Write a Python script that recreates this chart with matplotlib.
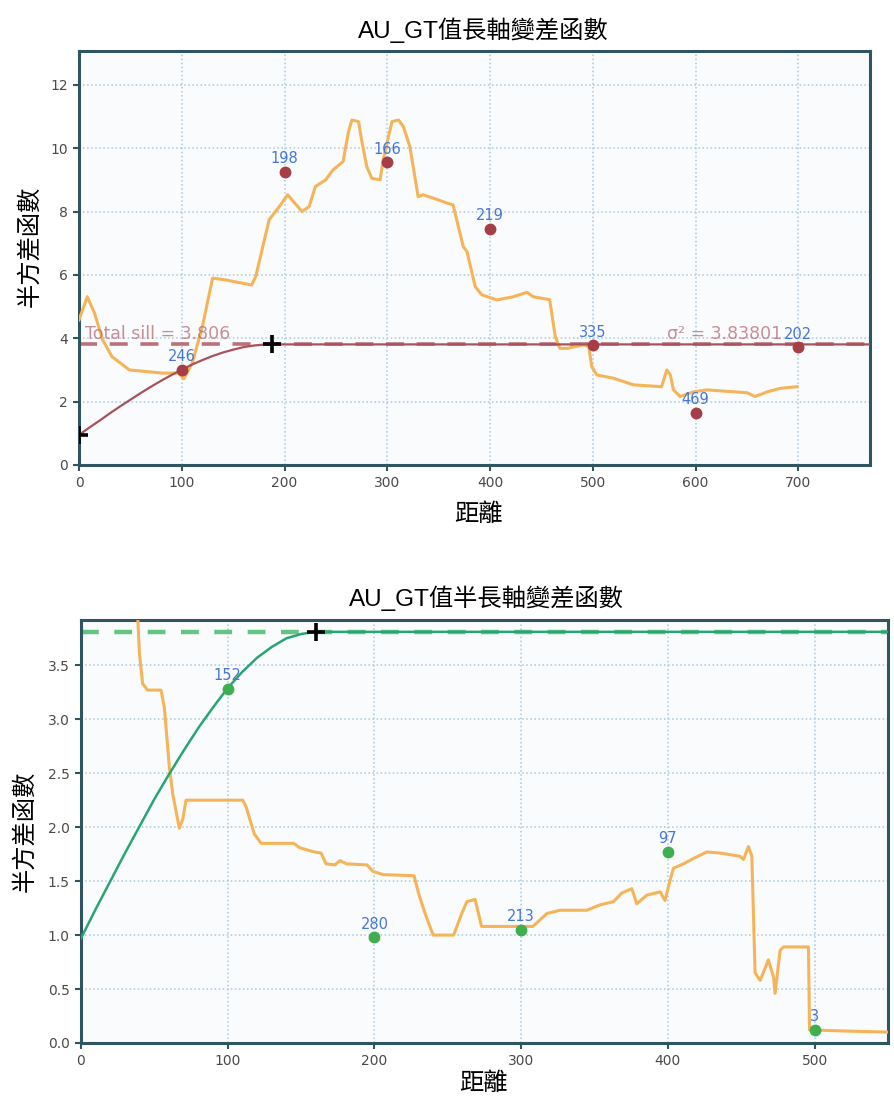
import matplotlib
matplotlib.use("Agg")
import matplotlib.pyplot as plt

'''Chart texts'''
title_top = "AU_GT值長軸變差函數"
title_bot = "AU_GT值半長軸變差函數"
ylabel = "半方差函數"
xlabel = "距離"

'''Major axis: empirical variogram (lag, value, pair count)'''
lag_top = [100, 200, 300, 400, 500, 600, 700]
gam_top = [3.0, 9.25, 9.55, 7.45, 3.78, 1.65, 3.72]
npair_top = [246, 198, 166, 219, 335, 469, 202]

'''Major axis: fitted model read off the curve'''
model_x_top = [0, 10, 20, 30, 40, 50, 60, 70, 80, 90, 100, 110, 120, 130, 140, 150, 160, 170, 180, 188, 770]
model_y_top = [0.95, 1.18, 1.40, 1.63, 1.85, 2.06, 2.27, 2.47, 2.66, 2.84, 3.01, 3.17, 3.31, 3.44, 3.55,
               3.64, 3.72, 3.77, 3.80, 3.806, 3.806]
sill_top = 3.806
range_top = 188
nugget_top = 0.95

'''Major axis: orange trace'''
tr_x_top = [0, 8, 15, 23, 32, 49, 81, 97, 102, 110, 120, 130, 143, 168, 172, 185, 195, 203, 217, 224,
            230, 240, 247, 257, 262, 265.5, 272, 275, 280, 285, 293, 296, 304.5, 311, 315.7, 322, 330,
            335, 345, 358, 364, 374, 377.5, 385.6, 392, 406.7, 422.6, 436, 442, 458, 463.5, 468, 475,
            491, 496, 499, 504, 520, 539.5, 567, 572, 575.5, 578.5, 585, 598, 611, 637, 650, 658, 670,
            682.6, 699]
tr_y_top = [4.58, 5.31, 4.80, 3.95, 3.42, 3.00, 2.90, 2.90, 2.72, 3.20, 4.36, 5.90, 5.84, 5.68, 5.95,
            7.74, 8.16, 8.53, 8.00, 8.16, 8.79, 9.00, 9.31, 9.58, 10.48, 10.89, 10.84, 10.26, 9.42,
            9.05, 9.00, 9.63, 10.84, 10.89, 10.68, 10.05, 8.47, 8.53, 8.42, 8.27, 8.21, 6.89, 6.74,
            5.63, 5.37, 5.21, 5.31, 5.45, 5.31, 5.22, 4.05, 3.68, 3.68, 3.79, 3.74, 3.10, 2.84, 2.74,
            2.53, 2.47, 3.00, 2.84, 2.37, 2.16, 2.31, 2.37, 2.31, 2.28, 2.16, 2.31, 2.42, 2.47]

'''Semi-major axis: empirical variogram'''
lag_bot = [100, 200, 300, 400, 500]
gam_bot = [3.28, 0.98, 1.05, 1.77, 0.12]
npair_bot = [152, 280, 213, 97, 3]

'''Semi-major axis: fitted model read off the curve'''
model_x_bot = [0, 10, 20, 30, 40, 50, 60, 70, 80, 90, 100, 110, 120, 130, 140, 150, 160, 550]
model_y_bot = [0.97, 1.24, 1.50, 1.76, 2.01, 2.26, 2.49, 2.71, 2.92, 3.11, 3.29, 3.44, 3.57, 3.67,
               3.75, 3.79, 3.81, 3.81]
sill_bot = 3.81
range_bot = 160

'''Semi-major axis: orange trace'''
tr_x_bot = [38.5, 39.8, 42, 45.4, 54.5, 56.8, 60.2, 62.5, 67, 69.3, 71.6, 77.3, 110.2, 112.5, 118,
            122.7, 145, 149, 159, 163.6, 167, 173, 176.5, 181, 195, 199, 206, 227, 230, 234.5, 240,
            254, 259.5, 263, 268.6, 273, 286, 308, 317.5, 326.5, 344.7, 353.8, 362.9, 368.6, 375.4,
            378.8, 385.6, 394.7, 398, 401.5, 403.8, 410.6, 417.4, 426.5, 435.6, 449.2, 451.5, 454.9,
            457.2, 459.4, 462.9, 468.5, 472, 473, 476.5, 478.8, 495.8, 496.5, 551]
tr_y_bot = [4.0, 3.61, 3.33, 3.27, 3.27, 3.11, 2.56, 2.31, 1.99, 2.07, 2.25, 2.25, 2.25, 2.19, 1.94,
            1.85, 1.85, 1.81, 1.77, 1.76, 1.66, 1.65, 1.69, 1.66, 1.65, 1.59, 1.56, 1.55, 1.39, 1.20,
            1.00, 1.00, 1.20, 1.31, 1.33, 1.08, 1.08, 1.08, 1.20, 1.23, 1.23, 1.28, 1.31, 1.39, 1.43,
            1.29, 1.37, 1.40, 1.32, 1.51, 1.62, 1.66, 1.71, 1.77, 1.76, 1.73, 1.70, 1.82, 1.73, 0.65,
            0.58, 0.77, 0.61, 0.46, 0.86, 0.89, 0.89, 0.12, 0.10]

cjk = ['Liberation Sans', 'Noto Sans CJK TC', 'DejaVu Sans']
orange = '#f6b458'
label_blue = '#4677d6'


def style_axes(ax, xlim, ylim, xticks, yticks, yfmt):
    ax.set_facecolor('#f9fbfd')
    ax.set_xlim(*xlim)
    ax.set_ylim(*ylim)
    ax.set_xticks(xticks)
    ax.set_yticks(yticks)
    ax.set_xticklabels([str(t) for t in xticks])
    ax.set_yticklabels([yfmt % t for t in yticks])
    ax.grid(True, color='#a9c9e2', linestyle=':', linewidth=1.1)
    ax.set_axisbelow(True)
    for s in ax.spines.values():
        s.set_color('#2e5560')
        s.set_linewidth(2.2)
    ax.tick_params(direction='out', length=4, width=1.5, color='#2e5560',
                   labelsize=10, labelcolor='#4a4a4a', pad=4)


fig = plt.figure(figsize=(8.94, 11.01), dpi=100)
fig.patch.set_facecolor('white')

'''---------- top chart ----------'''
ax1 = fig.add_axes([0.0884, 0.5777, 0.885, 0.376])
style_axes(ax1, (0, 770), (0, 13.07), list(range(0, 701, 100)), list(range(0, 13, 2)), '%d')
ax1.plot(tr_x_top, tr_y_top, color=orange, lw=2.2, zorder=3)
ax1.axhline(sill_top, color='#b5626c', lw=2.6, ls=(0, (5, 3.5)), alpha=0.9, zorder=2)
ax1.plot(model_x_top, model_y_top, color='#a8525c', lw=1.6, zorder=4)
ax1.plot([0, range_top], [nugget_top, sill_top], ls='none', marker='+', ms=13, mew=2.6,
         color='black', zorder=6)
ax1.plot(lag_top, gam_top, ls='none', marker='o', ms=7.5, color='#a63e48', zorder=5)
for x, y, n in zip(lag_top, gam_top, npair_top):
    ax1.annotate(str(n), (x, y), xytext=(0, 4), textcoords='offset points', ha='center',
                 va='bottom', color=label_blue, fontsize=10.5, zorder=7)
ax1.text(6, sill_top + 0.05, 'Total sill = %.3f' % sill_top, color='#b86a72', alpha=0.75,
         fontsize=12.5, va='bottom', ha='left', zorder=3)
ax1.text(684, sill_top + 0.05, 'σ² = 3.83801', color='#b86a72', alpha=0.75,
         fontsize=12.5, va='bottom', ha='right', zorder=3)
fig.text(0.541, 0.9728, title_top, family=cjk, fontsize=17.5, ha='center', va='center')
fig.text(0.034, 0.776, ylabel, family=cjk, fontsize=17.5, ha='center', va='center', rotation=90)
fig.text(0.535, 0.533, xlabel, family=cjk, fontsize=17.5, ha='center', va='center')

'''---------- bottom chart ----------'''
ax2 = fig.add_axes([0.0906, 0.0527, 0.9027, 0.3842])
yt = [0.0, 0.5, 1.0, 1.5, 2.0, 2.5, 3.0, 3.5]
style_axes(ax2, (0, 550), (0, 3.92), list(range(0, 501, 100)), yt, '%.1f')
ax2.plot(tr_x_bot, tr_y_bot, color=orange, lw=2.2, zorder=3)
ax2.axhline(sill_bot, color='#5cc27a', lw=3.2, ls=(0, (4, 3.5)), alpha=0.95, zorder=2)
ax2.plot(model_x_bot, model_y_bot, color='#27a673', lw=1.8, zorder=4)
ax2.plot([range_bot], [sill_bot], ls='none', marker='+', ms=13, mew=2.6, color='black', zorder=6)
ax2.plot(lag_bot, gam_bot, ls='none', marker='o', ms=7.5, color='#3fae4f', zorder=5)
for x, y, n in zip(lag_bot, gam_bot, npair_bot):
    ax2.annotate(str(n), (x, y), xytext=(0, 4), textcoords='offset points', ha='center',
                 va='bottom', color=label_blue, fontsize=10.5, zorder=7)
fig.text(0.544, 0.457, title_bot, family=cjk, fontsize=17.5, ha='center', va='center')
fig.text(0.028, 0.245, ylabel, family=cjk, fontsize=17.5, ha='center', va='center', rotation=90)
fig.text(0.541, 0.016, xlabel, family=cjk, fontsize=17.5, ha='center', va='center')

fig.savefig('out.png', dpi=100, facecolor='white')
